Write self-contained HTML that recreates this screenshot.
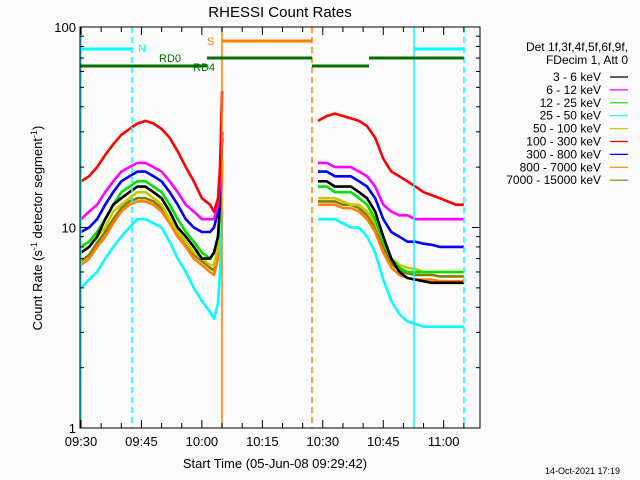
<!DOCTYPE html>
<html><head><meta charset="utf-8"><style>
html,body{margin:0;padding:0;background:#fafafa;}
svg{display:block;font-family:"Liberation Sans",sans-serif;}
</style></head><body>
<svg id="chart" width="640" height="480" viewBox="0 0 640 480">
<rect width="640" height="480" fill="#fafafa"/>
<text x="280" y="17" font-size="15" text-anchor="middle">RHESSI Count Rates</text>
<g id="grid"></g>
<g id="series"></g>
<g id="overlay"></g>
<g id="axes"></g>
<g id="legend" font-size="12"></g>
<text x="275" y="468" font-size="13" text-anchor="middle">Start Time (05-Jun-08 09:29:42)</text>
<text transform="translate(42,228) rotate(-90)" font-size="13" text-anchor="middle">Count Rate (s<tspan font-size="9" dy="-5">-1</tspan><tspan dy="5"> detector segment</tspan><tspan font-size="9" dy="-5">-1</tspan><tspan dy="5">)</tspan></text>
<text x="620" y="474" font-size="9" text-anchor="end">14-Oct-2021 17:19</text>
</svg>
<script>
// minutes after 09:30
const timesPre = [0,2,4,6,8,10,12,14,16,18,20,22,24,26,28,30,32,33,34,34.5,35];
const timesPost = [58.8,61,63,65,67,69,71,73,75,77,79,81,83,85,87,89,91,93,95];
const seriesNames = ["7000 - 15000 keV","800 - 7000 keV","50 - 100 keV","12 - 25 keV","3 - 6 keV","300 - 800 keV","6 - 12 keV","100 - 300 keV","25 - 50 keV"];
const seriesColors = ["#808000","#ff8000","#c8c800","#00e000","#000000","#0000ff","#ff00ff","#ff0000","#00ffff"];
const redPre = [17,18,20,23,26,29,31,33,34,33,31,28,24,20,17,14,13,12,14,20,48];
const redPost = [34,36,37,36,35,34,32,28,22,19,18,17,16,15,14.5,14,13.5,13,13];
const magPre = [11,12,13,15,17,19,20,21,21,20,19,17,15,13,12,11,11,11,13,17,30];
const magPost = [21,21,20,20,20,19,18,16,13,12,11.5,11.5,11,11,11,11,11,11,11];
const bluePre = [9.5,10,11,13,15,17,18,19,19,18,17,15,13,11,10,9.5,9.5,10,12,16,30];
const bluePost = [19,19,18,18,18,17,16,14,11,9.5,9,8.5,8.5,8.3,8.2,8,8,8,8];
const blackPre = [7.5,8,9,11,13,14,15,16,16,15,14,12,10,9,8,7,7,7.5,9,13,28];
const blackPost = [17,17,16,16,16,15,14,12,9,7,6,5.6,5.5,5.4,5.3,5.3,5.3,5.3,5.3];
const greenPre = [8,8.5,9.5,11,13,15,16,17,17,16,15,13,11,9.5,8.5,7.5,7,7.5,9,13,30];
const greenPost = [16,16,15,15,15,14,13,11,8.5,7,6.3,6,6,6,6,6,6,6,6];
const yellowPre = [7.5,8,9,10,12,13,14,15,15,14,13,11,9.5,8.5,7.5,7,6.5,6.5,8,11,22];
const yellowPost = [14,14,14,13.5,13,13,12,10.5,8.5,7,6.5,6.3,6.2,6,6,6,6,6,6];
const orangePre = [6.5,7,8,9,10.5,12,13,13.5,13.5,13,12,10.5,9,8,7,6.5,6,5.8,7,10,20];
const orangePost = [13,13,13,12.5,12.5,12,11,9.5,7.5,6.3,5.8,5.6,5.5,5.5,5.5,5.4,5.4,5.4,5.4];
const olivePre = [6.8,7.3,8.4,9.5,11,12.5,13.5,14,14,13.5,12.5,11,9.5,8.4,7.3,6.8,6.3,6.1,7.3,10.5,21];
const olivePost = [13.5,13.5,13.5,13,13,12.5,11.5,10,7.9,6.6,6.1,5.9,5.8,5.8,5.8,5.7,5.7,5.7,5.7];
const cyanPre = [5,5.5,6,7,8,9,10,11,11,10.5,10,8.5,7,6,5,4.3,3.8,3.5,4.2,6,12];
const cyanPost = [11,11,11,10.5,10,10,9,7.5,5.5,4.3,3.7,3.4,3.3,3.2,3.2,3.2,3.2,3.2,3.2];
const xTickLabels = ["09:30","09:45","10:00","10:15","10:30","10:45","11:00"];
const yTickLabels = ["1","10","100"];
const legendLabels = ["3 - 6 keV","6 - 12 keV","12 - 25 keV","25 - 50 keV","50 - 100 keV","100 - 300 keV","300 - 800 keV","800 - 7000 keV","7000 - 15000 keV"];
const legendColors = ["#000000","#ff00ff","#00e000","#00ffff","#c8c800","#ff0000","#0000ff","#ff8000","#808000"];

const X0=80,X1=480,Y0=27,Y1=428;
function xs(t){return 81+t*4.03;}
function ys(v){return Y1-(Y1-Y0)/2*Math.log10(v);}
const NS="http://www.w3.org/2000/svg";
function mk(tag,attrs,parent){const e=document.createElementNS(NS,tag);for(const k in attrs)e.setAttribute(k,attrs[k]);parent.appendChild(e);return e;}
const gS=document.getElementById('series'),gA=document.getElementById('axes'),gO=document.getElementById('overlay'),gL=document.getElementById('legend');

const allSeries=[[olivePre,olivePost],[orangePre,orangePost],[yellowPre,yellowPost],[greenPre,greenPost],[blackPre,blackPost],[bluePre,bluePost],[magPre,magPost],[redPre,redPost],[cyanPre,cyanPost]];
allSeries.forEach((s,i)=>{
  [[timesPre,s[0]],[timesPost,s[1]]].forEach((seg,j)=>{
    const d=seg[0].map((t,k)=>(k?'L':'M')+xs(t).toFixed(1)+','+ys(seg[1][k]).toFixed(1)).join('');
    const p=mk('path',{d:d,fill:'none',stroke:seriesColors[i],'stroke-width':2.6,'stroke-linejoin':'round'},gS);
    
    
  });
});

// overlay flags
function vline(x,c,dash,name){const l=mk('line',{x1:x,x2:x,y1:Y0,y2:Y1,stroke:c,'stroke-width':1.5},gO);if(dash)l.setAttribute('stroke-dasharray','6,4');}
vline(81,'#00ffff',false,'saa-start-line');vline(132,'#00ffff',true,'saa-end-line');
vline(414,'#00ffff',false,'saa2-start-line');vline(464,'#00ffff',true,'saa2-end-line');
vline(222,'#ff8000',false,'eclipse-start-line');vline(312,'#ff8000',true,'eclipse-end-line');
function hbar(x1,x2,y,c,name){const l=mk('line',{x1:x1,x2:x2,y1:y,y2:y,stroke:c,'stroke-width':3},gO);}
hbar(80,132,49,'#00ffff','night-bar-1');hbar(414,464,49,'#00ffff','night-bar-2');
hbar(222,312,41,'#ff8000','sun-bar');
hbar(80,207,66,'#007000','rd4-bar-1');hbar(207,312,58,'#007000','rd0-bar-1');
hbar(312,369,66,'#007000','rd4-bar-2');hbar(369,464,58,'#007000','rd0-bar-2');
function lbl(x,y,t,c,name){const e=mk('text',{x:x,y:y,fill:c,'font-size':11},gO);e.textContent=t;}
lbl(138,52,'N','#00ffff','night-label');lbl(207,45,'S','#ff8000','sun-label');
lbl(159,62,'RD0','#007000','rd0-label');lbl(193,71,'RD4','#007000','rd4-label');

// axes
const frame=mk('rect',{x:X0,y:Y0,width:X1-X0,height:Y1-Y0,fill:'none',stroke:'#000','stroke-width':1},gA);


for(let m=0;m<=99;m+=5){const x=xs(m);if(x>X1)break;const len=(m%15===0)?8:5;
  mk('line',{x1:x,x2:x,y1:Y1,y2:Y1-len,stroke:'#000'},gA);mk('line',{x1:x,x2:x,y1:Y0,y2:Y0+len,stroke:'#000'},gA);}
xTickLabels.forEach((t,i)=>{const e=mk('text',{x:xs(i*15),y:446,'font-size':13,'text-anchor':'middle'},gA);e.textContent=t;
  
  });
for(let d=0;d<2;d++)for(let k=1;k<=10;k++){const v=Math.pow(10,d)*k;const y=ys(v);const len=k===1||k===10?8:4;
  mk('line',{x1:X0,x2:X0+len,y1:y,y2:y,stroke:'#000'},gA);mk('line',{x1:X1,x2:X1-len,y1:y,y2:y,stroke:'#000'},gA);}
yTickLabels.forEach((t,i)=>{const e=mk('text',{x:76,y:ys(Math.pow(10,i))+5,'font-size':13,'text-anchor':'end'},gA);e.textContent=t;
  
  });

// legend
const h1=mk('text',{x:628,y:51,'text-anchor':'end'},gL);h1.textContent='Det 1f,3f,4f,5f,6f,9f,';


const h2=mk('text',{x:628,y:64,'text-anchor':'end'},gL);h2.textContent='FDecim 1, Att 0';


legendLabels.forEach((t,i)=>{const y=77+i*12.9;
  const e=mk('text',{x:601,y:y+4,'text-anchor':'end'},gL);e.textContent=t;
  
  
  mk('line',{x1:610,x2:628,y1:y,y2:y,stroke:legendColors[i],'stroke-width':1.2},gL);});
</script>
</body></html>
